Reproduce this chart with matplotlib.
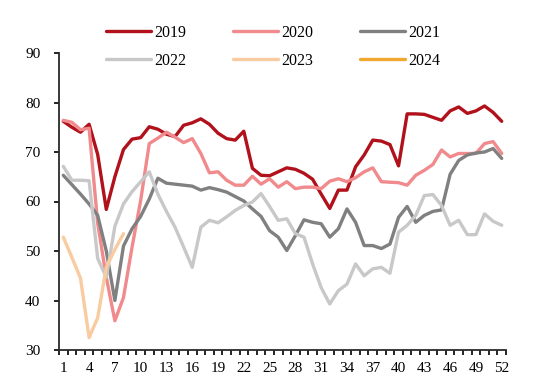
import numpy as np
import matplotlib
matplotlib.use("Agg")
import matplotlib.pyplot as plt

plt.rcParams['font.family'] = ['Liberation Serif', 'DejaVu Serif']

weeks = np.arange(1, 53)

y2019 = [76.2, 75.0, 74.0, 75.6, 69.5, 58.4, 65.0, 70.5, 72.6, 72.9,
         75.1, 74.6, 73.6, 73.1, 75.4, 75.9, 76.7, 75.6, 73.8, 72.7,
         72.4, 74.2, 66.7, 65.3, 65.2, 66.0, 66.8, 66.5, 65.7, 64.5,
         61.5, 58.6, 62.3, 62.3, 67.0, 69.4, 72.4, 72.2, 71.5, 67.2,
         77.7, 77.7, 77.6, 77.0, 76.4, 78.3, 79.1, 77.8, 78.3, 79.3,
         78.0, 76.2]
y2020 = [76.4, 76.0, 74.5, 74.8, 55.6, 44.7, 35.9, 40.6, 50.8, 60.2,
         71.7, 72.8, 74.0, 73.0, 71.9, 72.7, 69.7, 65.8, 66.0, 64.3,
         63.3, 63.3, 65.1, 63.5, 64.6, 62.9, 64.0, 62.6, 62.9, 62.9,
         62.6, 64.1, 64.6, 64.0, 64.8, 66.0, 66.8, 64.0, 63.9, 63.8,
         63.3, 65.3, 66.3, 67.5, 70.4, 69.0, 69.7, 69.7, 69.7, 71.7,
         72.1, 69.7]
y2021 = [65.3, 63.4, 61.5, 59.5, 57.2, 50.0, 40.0, 51.0, 54.5, 57.0,
         60.5, 64.7, 63.7, 63.5, 63.3, 63.1, 62.3, 62.8, 62.4, 61.9,
         61.0, 60.1, 58.5, 57.0, 54.1, 52.8, 50.1, 53.1, 56.3, 55.8,
         55.5, 52.8, 54.5, 58.5, 55.8, 51.1, 51.1, 50.5, 51.4, 56.8,
         59.0, 55.8, 57.2, 58.0, 58.3, 65.5, 68.3, 69.4, 69.8, 70.0,
         70.7, 68.7]
y2022 = [67.1, 64.3, 64.3, 64.2, 48.5, 44.7, 55.0, 59.5, 62.0, 64.0,
         66.0, 61.5, 58.0, 54.8, 50.8, 46.7, 54.8, 56.2, 55.7, 56.9,
         58.2, 59.2, 59.9, 61.6, 59.0, 56.2, 56.5, 53.5, 52.8, 47.4,
         42.6, 39.3, 42.0, 43.3, 47.4, 45.0, 46.4, 46.7, 45.5, 53.8,
         55.2, 57.2, 61.2, 61.4, 59.2, 55.2, 56.2, 53.3, 53.3, 57.5,
         56.0, 55.2]
y2023 = [52.8, 48.7, 44.5, 32.5, 36.5, 46.7, 50.3, 53.5]
y2024 = []

series = [("2019", y2019, "#B0111B"),
          ("2020", y2020, "#F08A8C"),
          ("2021", y2021, "#808080"),
          ("2022", y2022, "#C8C8C8"),
          ("2023", y2023, "#F8CBA0"),
          ("2024", y2024, "#F0A830")]

fig = plt.figure(figsize=(5.5, 3.91), dpi=100)
ax = fig.add_axes([59/550, 1-350/391, 447/550, 297/391])

lines = []
for name, vals, col in series:
    ln, = ax.plot(weeks[:len(vals)], vals, color=col, lw=2.4, label=name,
                  solid_joinstyle='round', solid_capstyle='round')
    lines.append(ln)

ax.set_xlim(0.5, 52.5)
ax.set_ylim(30, 90)
ax.set_yticks(np.arange(30, 91, 10))
ax.set_xticks(np.arange(1, 53, 3))
ax.set_xticks(np.arange(0.5, 53, 1), minor=True)
ax.tick_params(axis='x', which='major', length=0, pad=9, labelsize=11)
ax.tick_params(axis='x', which='minor', length=3.5, width=1.2, direction='out')
ax.tick_params(axis='y', length=3.5, width=1.2, direction='out', pad=10, labelsize=11)

for s in ['top', 'right']:
    ax.spines[s].set_visible(False)
for s in ['left', 'bottom']:
    ax.spines[s].set_linewidth(1.3)
    ax.spines[s].set_color('#2a2a2a')

# legend filled row by row: 2019 2020 2021 / 2022 2023 2024
order = [0, 3, 1, 4, 2, 5]
fig.legend([lines[i] for i in order], [series[i][0] for i in order],
           loc='center', bbox_to_anchor=(0.497, 0.88), ncol=3, frameon=False,
           prop={'size': 11.5}, handlelength=2.8, handletextpad=0.25,
           columnspacing=2.9, labelspacing=0.75)

fig.savefig("out.png", dpi=100)
